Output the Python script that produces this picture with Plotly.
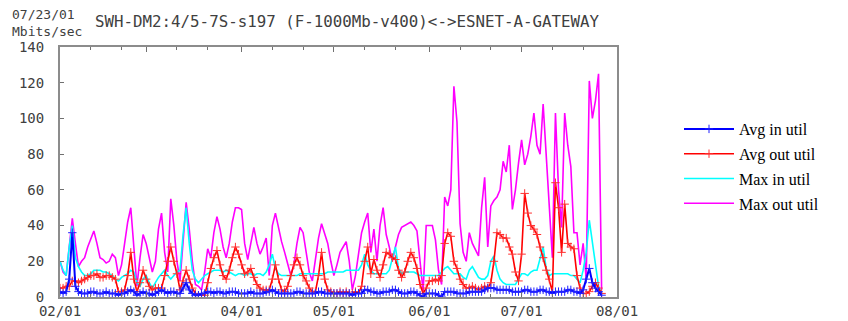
import plotly.graph_objects as go
import pandas as pd

# ---------------- data ----------------
start_date = "2001-02-01"

max_out = [
    20, 14, 12, 30, 44, 30, 17, 20, 22, 28,
    33, 37, 30, 22, 21, 19, 20, 24, 22, 12,
    18, 30, 42, 50, 30, 6, 22, 35, 30, 22,
    14, 20, 38, 47, 25, 14, 55, 40, 20, 9,
    30, 53, 38, 20, 7, 6, 4, 14, 27, 22,
    36, 45, 38, 28, 22, 30, 42, 50, 50, 49,
    30, 21, 30, 39, 30, 24, 28, 33, 12, 40,
    47, 38, 31, 25, 18, 12, 18, 30, 39, 36,
    25, 14, 9, 20, 33, 41, 36, 30, 20, 12,
    18, 25, 28, 31, 20, 4, 12, 25, 36, 42,
    47, 25, 38, 20, 40, 50, 35, 28, 20, 28,
    35, 39, 40, 41, 42, 40, 37, 20, 3, 40,
    40, 40, 32, 15, 7, 56, 51, 60, 118, 98,
    41, 25, 20, 36, 30, 26, 23, 50, 67, 28,
    51, 54, 56, 60, 76, 70, 85, 49, 60, 75,
    88, 74, 80, 90, 103, 85, 80, 108, 80, 48,
    22, 103, 60, 39, 103, 85, 73, 36, 36, 18,
    30, 10, 121, 100, 110, 125, 4,
]

avg_out = [
    5, 5, 6, 6, 9, 9, 8, 9, 10, 11,
    12, 12, 13, 11, 11, 12, 12, 11, 10, 3,
    3, 4, 12, 25, 10, 3, 8, 15, 10, 6,
    4, 5, 5, 5, 12, 20, 28, 20, 13, 4,
    9, 15, 10, 5, 2, 1, 1, 1, 8, 16,
    22, 26, 18, 12, 10, 15, 22, 28, 24, 18,
    13, 14, 16, 11, 7, 5, 4, 4, 4, 10,
    18, 10, 4, 3, 6, 12, 18, 22, 18, 12,
    9, 5, 3, 3, 12, 25, 10, 4, 3, 2,
    2, 3, 2, 3, 2, 2, 3, 2, 6, 20,
    28, 13, 21, 15, 11, 18, 25, 24, 22, 21,
    15, 11, 14, 20, 25, 22, 16, 7, 2, 5,
    9, 9, 10, 9, 12, 30, 36, 34, 20, 16,
    10, 7, 5, 5, 6, 5, 4, 5, 6, 5,
    8, 20, 36, 35, 33, 33, 28, 24, 14, 9,
    24, 58, 47, 40, 38, 35, 28, 22, 15, 10,
    3, 64, 50, 25, 52, 30, 28, 27, 12, 5,
    2, 2, 3, 6, 8, 5, 2,
]

max_in = [
    20, 15, 12, 28, 40, 22, 17, 14, 12, 12,
    13, 15, 15, 15, 14, 14, 13, 12, 10, 9,
    11, 12, 13, 15, 14, 8, 6, 10, 12, 8,
    5, 8, 11, 13, 15, 12, 10, 12, 14, 15,
    35, 50, 30, 15, 10, 8, 10, 12, 13, 14,
    15, 15, 15, 14, 15, 14, 13, 12, 13, 13,
    12, 13, 13, 12, 13, 13, 12, 14, 18, 24,
    16, 13, 12, 12, 12, 12, 12, 12, 13, 13,
    13, 13, 13, 13, 13, 13, 13, 14, 14, 14,
    14, 14, 14, 15, 15, 15, 15, 15, 18, 24,
    18, 15, 13, 13, 13, 13, 13, 15, 22, 28,
    16, 13, 14, 14, 14, 14, 13, 12, 12, 12,
    12, 12, 12, 12, 14, 16, 17, 15, 13, 13,
    13, 11, 10, 15, 17, 14, 11, 10, 10, 12,
    20, 23, 15, 10, 8, 7, 7, 7, 7, 10,
    13, 13, 12, 14, 15, 15, 22, 28, 16, 12,
    13, 13, 13, 13, 13, 13, 12, 12, 10, 8,
    15, 25, 43, 30, 20, 6, 2,
]

avg_in = [
    3, 2, 3, 10, 36, 6, 3, 2, 2, 2,
    3, 3, 2, 2, 2, 3, 2, 2, 2, 1,
    2, 2, 3, 4, 3, 1, 2, 3, 2, 2,
    1, 2, 3, 4, 3, 2, 3, 3, 2, 2,
    5, 8, 4, 2, 1, 1, 2, 2, 3, 3,
    2, 3, 3, 2, 2, 3, 3, 3, 2, 2,
    2, 2, 3, 2, 2, 2, 2, 3, 3, 4,
    3, 2, 2, 2, 2, 2, 2, 3, 3, 2,
    2, 2, 2, 2, 3, 3, 2, 2, 2, 2,
    2, 2, 2, 2, 2, 1, 2, 2, 2, 4,
    4, 3, 3, 2, 2, 3, 3, 3, 4, 4,
    3, 2, 2, 2, 3, 3, 2, 1, 0, 2,
    2, 2, 2, 1, 0, 3, 3, 3, 3, 2,
    2, 2, 2, 3, 3, 3, 3, 3, 4, 5,
    5, 5, 4, 4, 4, 4, 4, 3, 3, 3,
    3, 4, 4, 3, 3, 3, 4, 4, 3, 3,
    2, 3, 3, 3, 3, 4, 4, 3, 3, 2,
    4, 10, 16, 8, 5, 3, 1,
]

month_ticks = ["2001-02-01", "2001-03-01", "2001-04-01", "2001-05-01",
               "2001-06-01", "2001-07-01", "2001-08-01"]
month_labels = ["02/01", "03/01", "04/01", "05/01", "06/01", "07/01", "08/01"]
minor_ticks = ["2001-02-11", "2001-02-21", "2001-03-11", "2001-03-21",
               "2001-04-11", "2001-04-21", "2001-05-11", "2001-05-21",
               "2001-06-11", "2001-06-21", "2001-07-11", "2001-07-21"]
y_ticks = [0, 20, 40, 60, 80, 100, 120, 140]

# ---------------- figure ----------------
# The page body has an 8px margin, so the figure is drawn 8px smaller and
# reference pixel positions are shifted by that offset.
OFF = 8
W, H = 848 - OFF, 321 - OFF
L = 60 - OFF            # plot left edge (ref x=60)
T = 47 - OFF            # plot top edge (ref y=47)
R = W - (617 - OFF)     # plot right edge (ref x=617)
B = H - (297 - OFF)     # plot bottom edge (ref y=297)
PW, PH = W - L - R, H - T - B


def px_x(x):
    return (x - OFF - L) / PW


def px_y(y):
    return (H - B - (y - OFF)) / PH


def dates_for(series):
    return pd.date_range(start_date, periods=len(series), freq="D")


mono = "DejaVu Sans Mono"
txt_col = "#404040"

fig = go.Figure()
fig.add_trace(go.Scatter(x=dates_for(max_out), y=max_out, mode="lines",
                         name="Max out util", legendrank=4, legendgroup="d",
                         line=dict(color="#ff00ff", width=1.6)))
fig.add_trace(go.Scatter(x=dates_for(max_in), y=max_in, mode="lines",
                         name="Max in util", legendrank=3, legendgroup="c",
                         line=dict(color="#00ffff", width=1.6)))
fig.add_trace(go.Scatter(x=dates_for(avg_out), y=avg_out, mode="lines+markers",
                         name="Avg out util", legendrank=2, legendgroup="b",
                         line=dict(color="#ff0000", width=1.6),
                         marker=dict(symbol="cross-thin", size=6,
                                     line=dict(width=1, color="#ff3030"))))
fig.add_trace(go.Scatter(x=dates_for(avg_in), y=avg_in, mode="lines+markers",
                         name="Avg in util", legendrank=1, legendgroup="a",
                         line=dict(color="#0000ff", width=2),
                         marker=dict(symbol="cross-thin", size=6,
                                     line=dict(width=1, color="#2020ff"))))

fig.update_layout(
    width=W, height=H,
    margin=dict(l=L, r=R, t=T, b=B, autoexpand=False),
    paper_bgcolor="white", plot_bgcolor="white",
    showlegend=True,
    legend=dict(x=px_x(679), y=px_y(112), xanchor="left", yanchor="top",
                font=dict(family="Liberation Serif", size=16, color="black"),
                itemwidth=50, tracegroupgap=1,
                bgcolor="rgba(0,0,0,0)", borderwidth=0),
    xaxis=dict(type="date", range=["2001-02-01", "2001-08-01"],
               tickvals=month_ticks, ticktext=month_labels, automargin=False,
               ticks="inside", ticklen=5, tickwidth=1, tickcolor="#707070",
               showline=True, linecolor="#8c8c8c", linewidth=2, mirror="allticks",
               showgrid=False, zeroline=False,
               tickfont=dict(family=mono, size=14, color=txt_col),
               minor=dict(tickvals=minor_ticks, ticks="inside", ticklen=3,
                          tickcolor="#707070", showgrid=False)),
    yaxis=dict(range=[0, 140], tickvals=y_ticks, automargin=False,
               ticks="inside", ticklen=4, tickwidth=1, tickcolor="#707070",
               showline=True, linecolor="#8c8c8c", linewidth=2, mirror=True,
               showgrid=False, zeroline=False, ticklabelstandoff=11,
               tickfont=dict(family=mono, size=14, color=txt_col)),
)

fig.add_annotation(text="07/23/01", xref="paper", yref="paper",
                   x=px_x(10), y=px_y(14), xanchor="left", yanchor="middle",
                   showarrow=False, font=dict(family=mono, size=13, color=txt_col))
fig.add_annotation(text="SWH-DM2:4/5-7S-s197 (F-1000Mb-v400)&lt;-&gt;ESNET-A-GATEWAY",
                   xref="paper", yref="paper",
                   x=px_x(93), y=px_y(22), xanchor="left", yanchor="middle",
                   showarrow=False, font=dict(family=mono, size=15.8, color=txt_col))
fig.add_annotation(text="Mbits/sec", xref="paper", yref="paper",
                   x=px_x(10), y=px_y(32), xanchor="left", yanchor="middle",
                   showarrow=False, font=dict(family=mono, size=13, color=txt_col))

fig.write_html("out.html")
